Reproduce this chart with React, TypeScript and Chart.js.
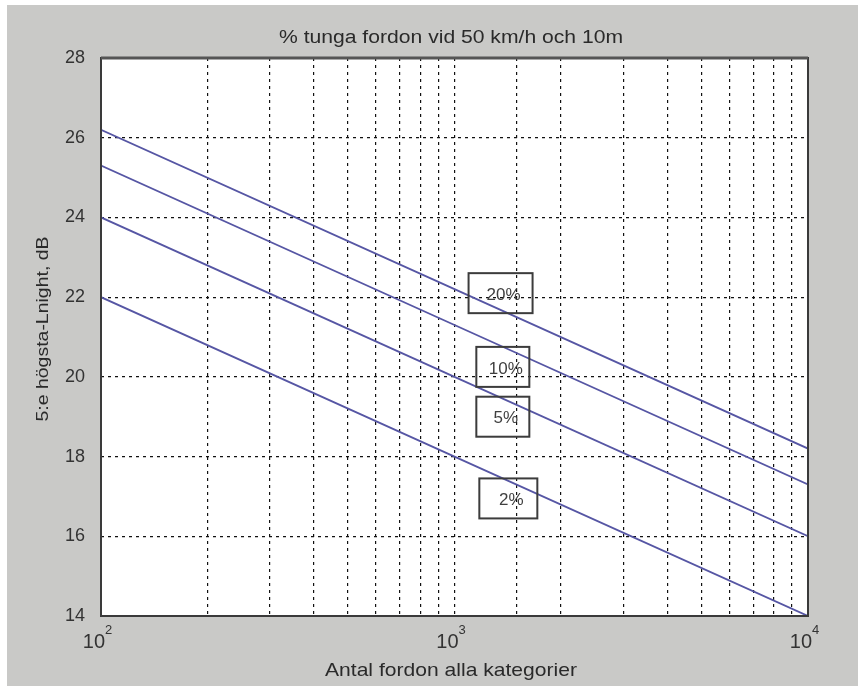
import React, { useEffect, useRef } from "react";
import { Chart, registerables } from "chart.js";

Chart.register(...registerables);

const chartTitle = "% tunga fordon vid 50 km/h och 10m";
const xTitle = "Antal fordon alla kategorier";
const yTitle = "5:e högsta-Lnight, dB";

const xValues = [100, 1000, 10000];
const seriesNames = ["20%", "10%", "5%", "2%"];
const series20 = [26.2, 22.2, 18.2];
const series10 = [25.3, 21.3, 17.3];
const series5 = [24.0, 20.0, 16.0];
const series2 = [22.0, 18.0, 14.0];
const allSeries = [series20, series10, series5, series2];

// label box anchors (data coords)
const labelX = [1350, 1370, 1370, 1420];
const labelY = [22.1, 20.25, 19.0, 16.95];

const xMajorTicks = [100, 1000, 10000];
const xMajorExp = ["2", "3", "4"];

const lineColor = "#5656a4";
const FONT = "'Liberation Sans', Arial, sans-serif";

function stretchedText(ctx: any, text: string, x: number, y: number, size: number, targetWidth: number) {
  ctx.save();
  ctx.font = `${size}px ${FONT}`;
  const w = ctx.measureText(text).width;
  const sx = targetWidth / w;
  ctx.translate(x, y);
  ctx.scale(sx, 1);
  ctx.textAlign = "center";
  ctx.fillText(text, 0, 0);
  ctx.restore();
}

export default function App() {
  const ref = useRef<HTMLCanvasElement>(null);

  useEffect(() => {
    document.body.style.margin = "0";
    const canvas = ref.current!;
    const decor = {
      id: "decor",
      beforeDraw(chart: any) {
        const { ctx, chartArea: a } = chart;
        ctx.save();
        ctx.fillStyle = "#ffffff";
        ctx.fillRect(0, 0, 858, 686);
        ctx.fillStyle = "#c9c9c7";
        ctx.fillRect(7, 5, 851, 681);
        ctx.fillStyle = "#ffffff";
        ctx.fillRect(a.left, a.top, a.right - a.left, a.bottom - a.top);
        ctx.restore();
      },
      afterDraw(chart: any) {
        const { ctx, chartArea: a, scales } = chart;
        const xs = scales.x;
        const ys = scales.y;
        ctx.save();
        // box
        ctx.strokeStyle = "#3a3a3a";
        ctx.lineWidth = 2;
        ctx.strokeRect(a.left, a.top, a.right - a.left, a.bottom - a.top);
        ctx.strokeStyle = "#555555";
        ctx.lineWidth = 3;
        ctx.beginPath();
        ctx.moveTo(a.left, a.top);
        ctx.lineTo(a.right, a.top);
        ctx.stroke();
        // titles
        ctx.fillStyle = "#2a2a2a";
        ctx.textBaseline = "alphabetic";
        stretchedText(ctx, chartTitle, 451, 43, 18, 344);
        stretchedText(ctx, xTitle, 451, 676, 19, 252);
        ctx.save();
        ctx.translate(48, 329);
        ctx.rotate(-Math.PI / 2);
        stretchedText(ctx, yTitle, 0, 0, 17, 185);
        ctx.restore();
        // x tick labels with superscripts
        xMajorTicks.forEach((v, i) => {
          const px = xs.getPixelForValue(v);
          ctx.fillStyle = "#333333";
          ctx.font = `20px ${FONT}`;
          ctx.textAlign = "right";
          ctx.fillText("10", px + 4, a.bottom + 32);
          ctx.font = `13px ${FONT}`;
          ctx.textAlign = "left";
          ctx.fillText(xMajorExp[i], px + 4, a.bottom + 18);
        });
        // label boxes
        ctx.font = `17px ${FONT}`;
        ctx.textAlign = "center";
        ctx.textBaseline = "middle";
        seriesNames.forEach((name, i) => {
          const cx = xs.getPixelForValue(labelX[i]);
          const cy = ys.getPixelForValue(labelY[i]);
          const w = i === 0 ? 64 : i === 3 ? 58 : 53;
          const h = 40;
          ctx.strokeStyle = "#3c3c3c";
          ctx.lineWidth = 2;
          ctx.strokeRect(cx - w / 2, cy - h / 2, w, h);
          ctx.fillStyle = "#404040";
          ctx.fillText(name, cx + 3, cy + 2);
        });
        ctx.restore();
      },
    };

    const chart = new Chart(canvas, {
      type: "line",
      data: {
        datasets: allSeries.map((s, i) => ({
          label: seriesNames[i],
          data: s.map((y, j) => ({ x: xValues[j], y })),
          borderColor: lineColor,
          borderWidth: 1.8,
          pointRadius: 0,
          tension: 0,
          fill: false,
        })),
      },
      options: {
        responsive: false,
        animation: false,
        layout: { padding: { top: 58, right: 50, left: 0, bottom: 0 } },
        plugins: { legend: { display: false }, tooltip: { enabled: false }, title: { display: false } },
        scales: {
          x: {
            type: "logarithmic",
            min: 100,
            max: 10000,
            afterFit: (s: any) => { s.height = 70; },
            ticks: { display: false, autoSkip: false },
            grid: { color: "#111111", drawTicks: false, lineWidth: 1.2 },
            border: { display: false, dash: [3, 4] } as any,
          },
          y: {
            type: "linear",
            min: 14,
            max: 28,
            afterFit: (s: any) => { s.width = 101; },
            ticks: {
              stepSize: 2,
              padding: 16,
              color: "#333333",
              font: { size: 18, family: FONT },
            },
            grid: { color: "#111111", drawTicks: false, lineWidth: 1.2 },
            border: { display: false, dash: [3, 4] } as any,
          },
        },
      } as any,
      plugins: [decor],
    });
    return () => chart.destroy();
  }, []);

  return (
    <div style={{ position: "absolute", left: 0, top: 0, width: 858, height: 686 }}>
      <canvas ref={ref} width={858} height={686} style={{ display: "block" }} />
    </div>
  );
}
